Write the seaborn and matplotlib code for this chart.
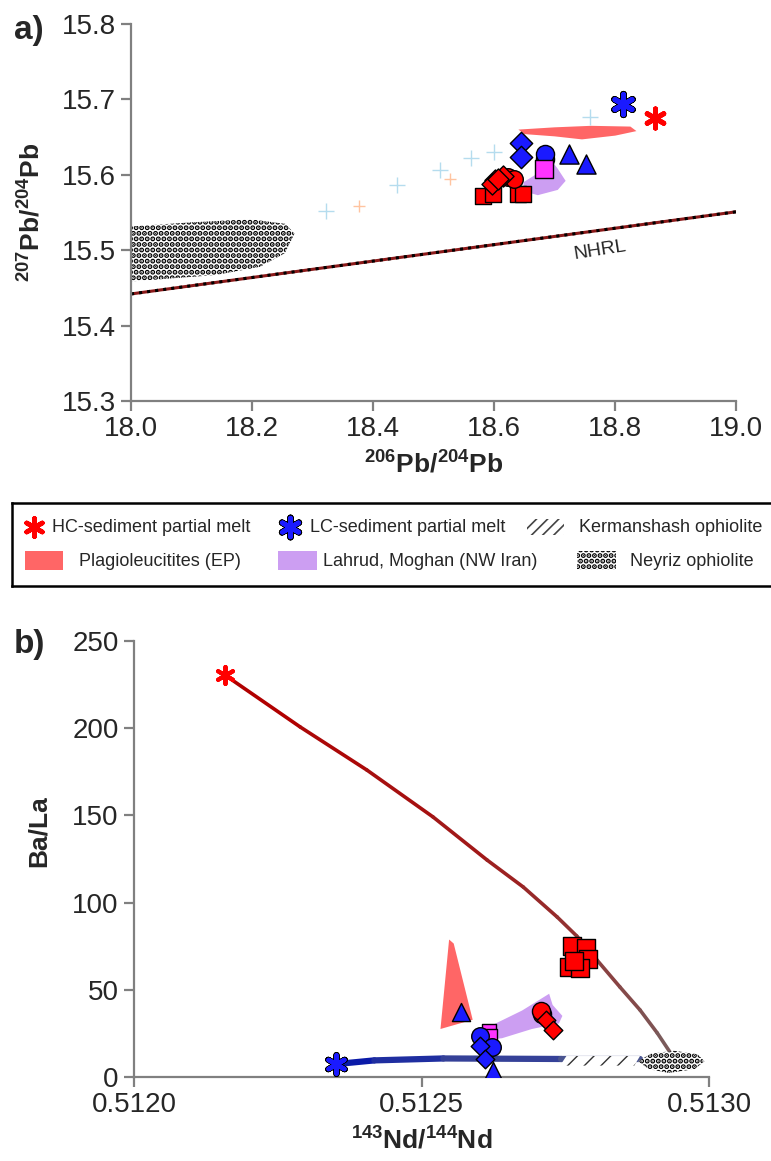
import numpy as np
import pandas as pd
import matplotlib
matplotlib.use("Agg")
from matplotlib import pyplot as plt
from matplotlib.patches import Polygon, Rectangle
from matplotlib.collections import LineCollection
from matplotlib.colors import LinearSegmentedColormap
import seaborn as sns

sns.set_style("white")
plt.rcParams['font.family'] = ['Liberation Sans', 'DejaVu Sans']
plt.rcParams['mathtext.fontset'] = 'custom'
plt.rcParams['mathtext.rm'] = 'Liberation Sans'
plt.rcParams['mathtext.bf'] = 'Liberation Sans:bold'
plt.rcParams['hatch.linewidth'] = 2.6

# ---------------- panel a: Pb isotopes ----------------
a_red_sq_x = [18.582, 18.598, 18.639, 18.647]
a_red_sq_y = [15.572, 15.575, 15.575, 15.575]
a_red_di_x = [18.602, 18.614, 18.597, 18.606]
a_red_di_y = [15.593, 15.598, 15.588, 15.595]
a_red_ci_x = [18.622, 18.633]
a_red_ci_y = [15.597, 15.595]
a_blue_di_x = [18.645, 18.645]
a_blue_di_y = [15.642, 15.623]
a_blue_ci_x = [18.684, 18.684]
a_blue_ci_y = [15.621, 15.627]
a_blue_tr_x = [18.724, 18.752]
a_blue_tr_y = [15.627, 15.615]
a_mag_sq_x = [18.682]
a_mag_sq_y = [15.608]
a_cross_blue_x = [18.322, 18.440, 18.511, 18.562, 18.600, 18.759]
a_cross_blue_y = [15.552, 15.586, 15.607, 15.622, 15.630, 15.677]
a_cross_orange_x = [18.377, 18.527]
a_cross_orange_y = [15.558, 15.595]
a_hc_x, a_hc_y = [18.866], [15.676]
a_lc_x, a_lc_y = [18.812], [15.694]
nhrl_x = [18.0, 19.0]
nhrl_y = [15.442, 15.551]
a_plagio = [(18.640, 15.660), (18.650, 15.654), (18.700, 15.651), (18.745, 15.647),
            (18.800, 15.652), (18.835, 15.658), (18.825, 15.664), (18.760, 15.665),
            (18.700, 15.663)]
a_lahrud = [(18.688, 15.626), (18.705, 15.608), (18.718, 15.592), (18.705, 15.580),
            (18.672, 15.573), (18.650, 15.578), (18.648, 15.590), (18.672, 15.602)]
a_neyriz = [(17.99, 15.531), (18.1, 15.537), (18.197, 15.541), (18.255, 15.535),
            (18.27, 15.522), (18.254, 15.496), (18.213, 15.478), (18.139, 15.467),
            (17.99, 15.458)]

# ---------------- panel b: Ba/La vs Nd ----------------
hc_curve_x = [0.512158, 0.512289, 0.512405, 0.512520, 0.512614, 0.512677, 0.512736,
              0.512770, 0.512805, 0.512845, 0.512880, 0.512910, 0.512932]
hc_curve_y = [230.5, 200.7, 176.0, 149.1, 124.4, 108.9, 91.7,
              80.8, 67.1, 51.6, 38.4, 25.2, 14.3]
lc_curve_x = [0.512352, 0.512418, 0.512538, 0.512743, 0.512880]
lc_curve_y = [7.4, 9.5, 10.6, 10.3, 10.3]
b_red_sq_x = [0.512762, 0.512786, 0.512790, 0.512756, 0.512776, 0.512765]
b_red_sq_y = [75.2, 74.2, 67.4, 63.1, 62.5, 66.7]
b_red_ci_x = [0.512709, 0.512707]
b_red_ci_y = [36.0, 38.1]
b_red_di_x = [0.512716, 0.512728]
b_red_di_y = [32.8, 27.1]
b_mag_sq_x = [0.512617, 0.512619]
b_mag_sq_y = [26.5, 23.3]
b_blue_ci_x = [0.512602, 0.512622]
b_blue_ci_y = [23.7, 17.4]
b_blue_di_x = [0.512602, 0.512610]
b_blue_di_y = [18.0, 10.2]
b_blue_tr_x = [0.512625, 0.512569]
b_blue_tr_y = [3.2, 37.1]
b_hc_x, b_hc_y = [0.512158], [230.5]
b_lc_x, b_lc_y = [0.512352], [7.4]
b_plagio = [(0.512548, 78.8), (0.512556, 76.5), (0.512589, 32.8), (0.512533, 27.5)]
b_lahrud = [(0.512610, 21.2), (0.512623, 29.7), (0.512675, 38.1), (0.512722, 47.7),
            (0.512728, 41.3), (0.512745, 35.0), (0.512739, 30.7), (0.512692, 27.5),
            (0.512640, 22.2)]
b_kerman = [(0.512741, 6.5), (0.512752, 12.0), (0.512880, 12.0), (0.512870, 6.5)]
b_neyriz = [(0.512877, 9.0), (0.512900, 13.5), (0.512940, 15.0), (0.512980, 13.0),
            (0.512992, 9.0), (0.512975, 4.5), (0.512930, 2.3), (0.512895, 4.5)]

RED = '#ff0000'
BLUE = '#1a1aff'
MAG = '#ff33ff'
PLAGIO = '#ff6666'
LAHRUD = '#cc9ef2'
GRAY = '#808080'

fig = plt.figure(figsize=(7.71, 11.61), dpi=100)
ax1 = fig.add_axes([0.170, 0.6546, 0.785, 0.3247])
ax2 = fig.add_axes([0.1738, 0.0724, 0.7458, 0.3755])
axl = fig.add_axes([12 / 771, 575 / 1161, 1.0, 83 / 1161])


def pts(ax, xs, ys, marker, color, s, lw=1.0, z=5):
    sns.scatterplot(x=xs, y=ys, marker=marker, color=color, s=s,
                    edgecolor='black', linewidth=lw, ax=ax, zorder=z, legend=False)


def star(ax, xs, ys, color, s, lw=3.2, outline=False):
    if outline:
        sns.scatterplot(x=xs, y=ys, marker=(6, 2, 0), color='black', s=s * 1.1,
                        linewidth=lw + 1.2, ax=ax, zorder=8, legend=False)
    sns.scatterplot(x=xs, y=ys, marker=(6, 2, 0), color=color, s=s,
                    linewidth=lw, ax=ax, zorder=9, legend=False)


def grad_line(ax, xs, ys, c0, c1, lw):
    p = np.column_stack([xs, ys])
    segs = np.stack([p[:-1], p[1:]], axis=1)
    cmap = LinearSegmentedColormap.from_list('g', [c0, c1])
    lc = LineCollection(segs, colors=cmap(np.linspace(0, 1, len(segs))),
                        linewidths=lw, capstyle='round', joinstyle='round', zorder=3)
    ax.add_collection(lc)


def hatched(ax, verts, hatch, hlw, z=1, ec='black'):
    p = Polygon(verts, closed=True, facecolor='white', edgecolor=ec,
                hatch=hatch, linewidth=0, zorder=z)
    if hasattr(p, 'set_hatch_linewidth'):
        p.set_hatch_linewidth(hlw)
    ax.add_patch(p)
    return p


# ---- panel a ----
hatched(ax1, a_neyriz, '...', 2.6, z=1)
ax1.add_patch(Polygon(a_plagio, closed=True, facecolor=PLAGIO, edgecolor='none', zorder=2))
ax1.add_patch(Polygon(a_lahrud, closed=True, facecolor=LAHRUD, edgecolor='none', zorder=2))
sns.lineplot(x=nhrl_x, y=nhrl_y, color='#8b1a1a', linewidth=2.2, ax=ax1, zorder=2)
sns.lineplot(x=nhrl_x, y=nhrl_y, color='black', linewidth=2.2, linestyle=':', ax=ax1, zorder=2)
ax1.text(18.775, 15.500, 'NHRL', fontsize=14, rotation=9, ha='center', va='center')

sns.scatterplot(x=a_cross_blue_x, y=a_cross_blue_y, marker='+', color='#b5dcee', s=120,
                linewidth=1.0, ax=ax1, zorder=3, legend=False)
sns.scatterplot(x=a_cross_orange_x, y=a_cross_orange_y, marker='+', color='#ffc4a0', s=80,
                linewidth=1.0, ax=ax1, zorder=3, legend=False)
pts(ax1, a_red_sq_x, a_red_sq_y, 's', RED, 140)
pts(ax1, a_red_ci_x, a_red_ci_y, 'o', RED, 160)
pts(ax1, a_red_di_x, a_red_di_y, 'D', RED, 115)
pts(ax1, a_blue_di_x, a_blue_di_y, 'D', BLUE, 130)
pts(ax1, a_blue_ci_x, a_blue_ci_y, 'o', BLUE, 170)
pts(ax1, a_mag_sq_x, a_mag_sq_y, 's', MAG, 150, z=6)
pts(ax1, a_blue_tr_x, a_blue_tr_y, '^', BLUE, 190)
star(ax1, a_hc_x, a_hc_y, RED, 190, lw=3.6)
star(ax1, a_lc_x, a_lc_y, BLUE, 200, lw=3.6, outline=True)

ax1.set_xlim(18.0, 19.0)
ax1.set_ylim(15.3, 15.8)
ax1.set_xticks(np.arange(18.0, 19.01, 0.2))
ax1.set_yticks(np.arange(15.3, 15.81, 0.1))
ax1.set_xticklabels([f'{v:.1f}' for v in np.arange(18.0, 19.01, 0.2)])
ax1.set_yticklabels([f'{v:.1f}' for v in np.arange(15.3, 15.81, 0.1)])
ax1.set_xlabel(r'$\mathbf{^{206}Pb/^{204}Pb}$', fontsize=19, labelpad=6)
ax1.set_ylabel(r'$\mathbf{^{207}Pb/^{204}Pb}$', fontsize=19, labelpad=12)

# ---- panel b ----
ax2.add_patch(Polygon(b_plagio, closed=True, facecolor=PLAGIO, edgecolor='none', zorder=2))
ax2.add_patch(Polygon(b_lahrud, closed=True, facecolor=LAHRUD, edgecolor='none', zorder=2))
grad_line(ax2, hc_curve_x, hc_curve_y, '#b00000', '#7a5a5a', 2.6)
grad_line(ax2, lc_curve_x, lc_curve_y, '#0a1aa8', '#4a5590', 4.5)
hatched(ax2, b_kerman, '//', 1.0, z=4, ec='#333333')
hatched(ax2, b_neyriz, '...', 2.6, z=4)
pts(ax2, b_red_sq_x, b_red_sq_y, 's', RED, 170)
pts(ax2, b_red_ci_x, b_red_ci_y, 'o', RED, 170)
pts(ax2, b_red_di_x, b_red_di_y, 'D', RED, 90)
pts(ax2, b_mag_sq_x, b_mag_sq_y, 's', MAG, 110)
pts(ax2, b_blue_ci_x, b_blue_ci_y, 'o', BLUE, 160, z=6)
pts(ax2, b_blue_di_x, b_blue_di_y, 'D', BLUE, 90, z=6)
pts(ax2, b_blue_tr_x, b_blue_tr_y, '^', BLUE, 170, z=6)
star(ax2, b_hc_x, b_hc_y, RED, 150, lw=3.0)
star(ax2, b_lc_x, b_lc_y, BLUE, 170, lw=3.2, outline=True)

ax2.set_xlim(0.5120, 0.5130)
ax2.set_ylim(0, 250)
ax2.set_xticks([0.5120, 0.5125, 0.5130])
ax2.set_xticklabels(['0.5120', '0.5125', '0.5130'])
ax2.set_yticks(np.arange(0, 251, 50))
ax2.set_xlabel(r'$\mathbf{^{143}Nd/^{144}Nd}$', fontsize=19, labelpad=6)
ax2.set_ylabel('Ba/La', fontsize=19, fontweight='bold', labelpad=22)
ax2.yaxis.set_label_coords(-0.145, 0.565)

for ax in (ax1, ax2):
    sns.despine(ax=ax)
    for side in ('left', 'bottom'):
        ax.spines[side].set_color(GRAY)
        ax.spines[side].set_linewidth(1.6)
    ax.tick_params(direction='out', length=7, width=1.6, color=GRAY,
                   labelsize=20, pad=4, left=True, bottom=True)

fig.text(14 / 771, 1 - 30 / 1161, 'a)', fontsize=24, fontweight='bold', va='center')
fig.text(14 / 771, 1 - 645 / 1161, 'b)', fontsize=24, fontweight='bold', va='center')

# ---- legend box ----
axl.set_xlim(12, 12 + 771)
axl.set_ylim(586, 503)
axl.set_xticks([])
axl.set_yticks([])
for sp in axl.spines.values():
    sp.set_color('black')
    sp.set_linewidth(1.8)
star(axl, [34], [527], RED, 170, lw=3.4)
star(axl, [290], [527], BLUE, 180, lw=3.4, outline=True)
kr = Rectangle((527, 519), 37, 16, facecolor='white', edgecolor='#444444',
               hatch='///', linewidth=0)
if hasattr(kr, 'set_hatch_linewidth'):
    kr.set_hatch_linewidth(1.2)
axl.add_patch(kr)
axl.add_patch(Rectangle((25, 551), 38, 19, facecolor=PLAGIO, edgecolor='none'))
axl.add_patch(Rectangle((278, 551), 39, 19, facecolor=LAHRUD, edgecolor='none'))
axl.add_patch(Rectangle((577, 551), 39, 19, facecolor='white', edgecolor='black',
                        hatch='...', linewidth=0))
lfs = 13
axl.text(52, 527, 'HC-sediment partial melt', fontsize=lfs, va='center')
axl.text(310, 527, 'LC-sediment partial melt', fontsize=lfs, va='center')
axl.text(579, 527, 'Kermanshash ophiolite', fontsize=lfs, va='center')
axl.text(79, 561, 'Plagioleucitites (EP)', fontsize=lfs, va='center')
axl.text(323, 561, 'Lahrud, Moghan (NW Iran)', fontsize=lfs, va='center')
axl.text(630, 561, 'Neyriz ophiolite', fontsize=lfs, va='center')

fig.savefig('out.png', dpi=100)
